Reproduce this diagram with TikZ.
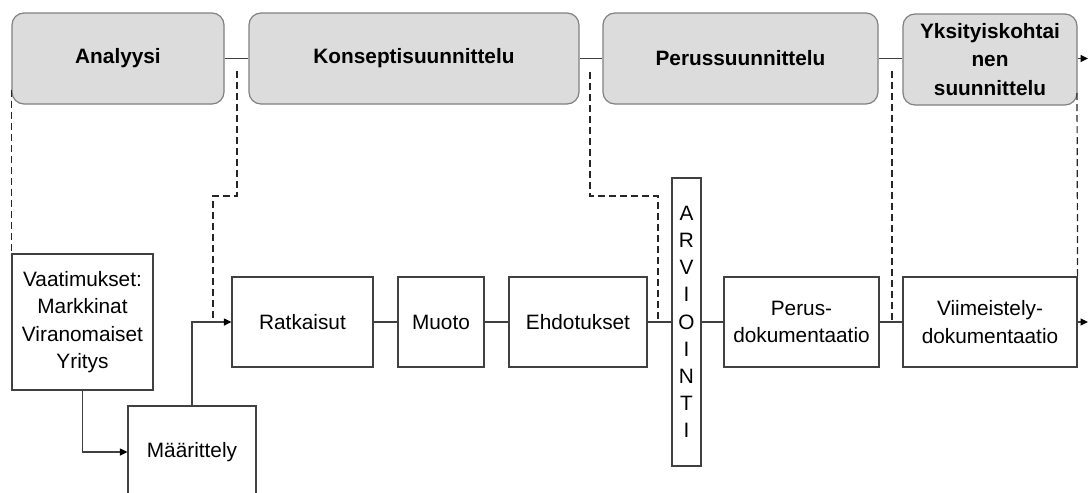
\documentclass[tikz,border=0pt]{standalone}
\usepackage{fontspec}
\setmainfont{Liberation Sans}
\usetikzlibrary{arrows.meta}
\definecolor{phasefill}{HTML}{DCDCDC}
\definecolor{phaseline}{HTML}{808080}
\definecolor{boxline}{HTML}{404040}
\definecolor{conline}{HTML}{404040}
\tikzset{
  phase/.style={draw=phaseline, fill=phasefill, line width=1.2pt, rounded corners=12pt,
    minimum height=91pt, inner sep=0pt, align=center,
    font=\fontsize{20.8}{28.5}\selectfont\bfseries},
  stepbox/.style={draw=boxline, line width=1.2pt, minimum height=90pt, inner sep=0pt, align=center,
    font=\fontsize{20.8}{27.5}\selectfont},
  con/.style={draw=conline, line width=1.2pt},
  arr/.style={con, -{Triangle[length=7.5pt,width=7pt,color=black]}},
  dsh/.style={draw=black!85, line width=1.2pt, dash pattern=on 7pt off 4pt},
}
\begin{document}
\begin{tikzpicture}[x=1pt,y=-1pt]
\useasboundingbox (0,0) rectangle (1088,493);
\clip (0,0) rectangle (1088,493);
% top phases
\node[phase, minimum width=212pt] (an) at (118,58.5) {Analyysi};
\node[phase, minimum width=330pt] (ko) at (414,58.5) {Konseptisuunnittelu};
\node[phase, minimum width=275pt] (pe) at (740.5,58.5) {Perussuunnittelu};
\node[phase, minimum width=174pt] (yk) at (990,59.5) {Yksityiskohtai\\nen\\suunnittelu};
\coordinate (topend) at (1088,58.5);
\draw[con] (an) -- (ko);
\draw[con] (ko) -- (pe);
\draw[con] (pe) -- (yk.west |- pe.east);
\draw[arr] (yk.east |- pe.east) -- (topend);
% bottom row
\node[stepbox, minimum width=141pt, minimum height=136pt] (va) at (82.5,322) {Vaatimukset:\\Markkinat\\Viranomaiset\\Yritys};
\node[stepbox, minimum width=128pt, minimum height=92pt] (ma) at (192,452) {Määrittely};
\node[stepbox, minimum width=141pt] (ra) at (302.5,322) {Ratkaisut};
\node[stepbox, minimum width=86pt] (mu) at (441,322) {Muoto};
\node[stepbox, minimum width=138pt] (eh) at (578,322) {Ehdotukset};
\node[stepbox, minimum width=29pt, minimum height=288pt, font=\fontsize{20.8}{27.2}\selectfont] (ar) at (686.5,322) {A\\R\\V\\I\\O\\I\\N\\T\\I};
\node[stepbox, minimum width=155pt] (pd) at (801.5,322) {Perus-\\dokumentaatio};
\node[stepbox, minimum width=174pt] (vd) at (990,322) {Viimeistely-\\dokumentaatio};
\coordinate (botend) at (1088,322);
\draw[arr] (va.south) |- (ma.west);
\draw[arr] (ma.north) |- (ra.west);
\draw[con] (ra) -- (mu);
\draw[con] (mu) -- (eh);
\draw[con] (eh) -- (ar);
\draw[con] (ar) -- (pd);
\draw[con] (pd) -- (vd);
\draw[arr] (vd.east) -- (botend);
% dashed links
\coordinate (d1a) at (237,71);
\coordinate (d1b) at (213,322);
\coordinate (d2a) at (590,72);
\coordinate (d2b) at (658,322);
\coordinate (d3a) at (892,71);
\coordinate (d3b) at (892,322);
\draw[dsh] ([yshift=15pt]an.south west) -- (va.north west);
\draw[dsh] (d1a) -- (237,196) -| (d1b);
\draw[dsh] (d2a) -- (590,196) -| (d2b);
\draw[dsh] (d3a) -- (d3b);
\draw[dsh] (1077,93) -- (vd.north east);
\end{tikzpicture}
\end{document}
